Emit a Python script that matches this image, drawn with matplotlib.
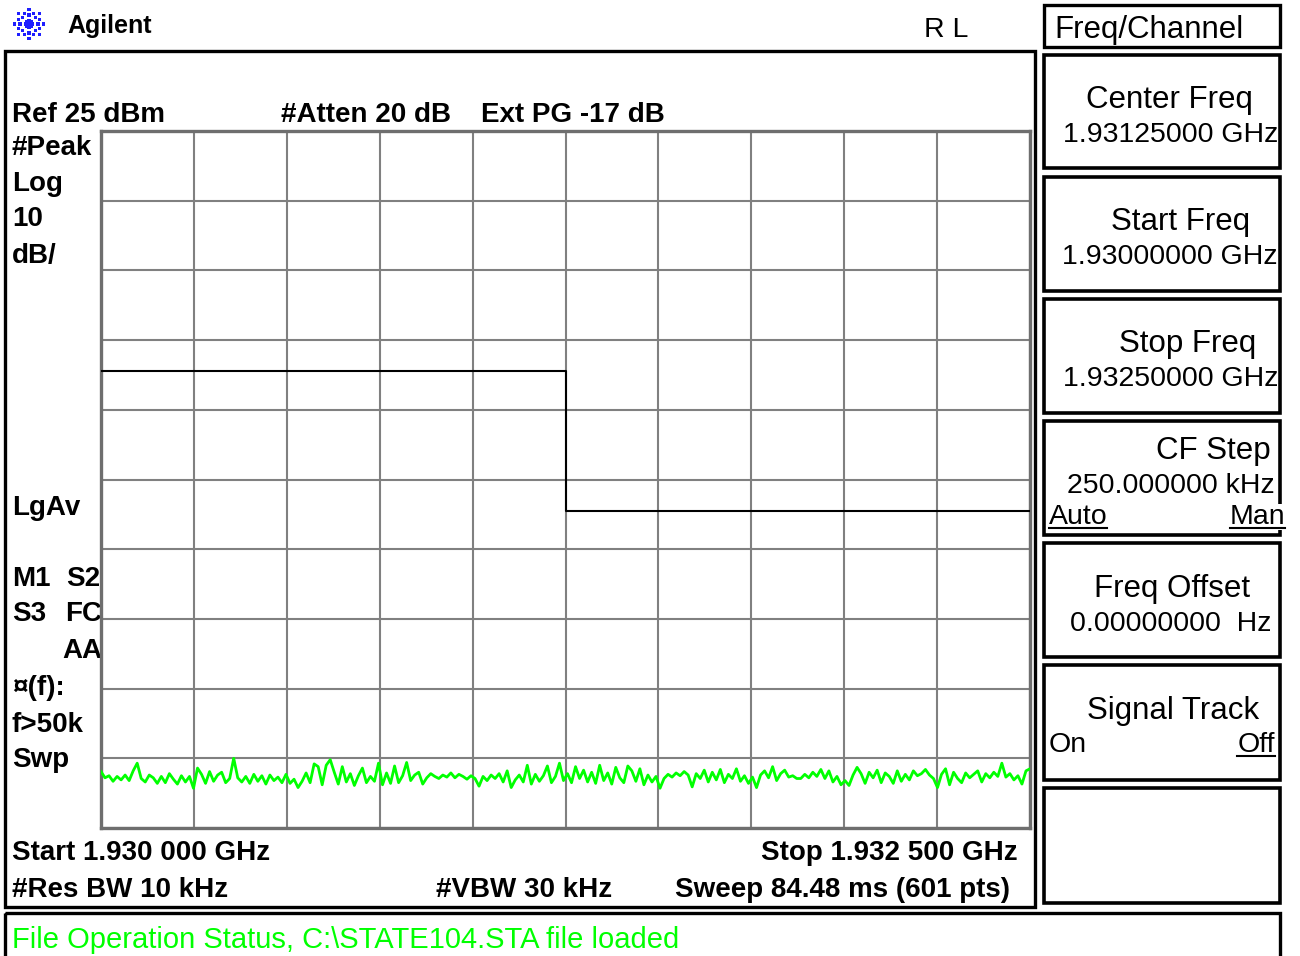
import numpy as np
import matplotlib
matplotlib.use("Agg")
import matplotlib.pyplot as plt
from matplotlib.patches import Rectangle

plt.rcParams['font.family'] = ['Liberation Sans', 'DejaVu Sans']

# ---------------- data ----------------
start_ghz = 1.930
stop_ghz = 1.9325
ref_dbm = 25
db_per_div = 10
n_div = 10

limit_freq = [1.930, 1.93125, 1.93125, 1.9325]
limit_db = [-9.5, -9.5, -29.5, -29.5]

trace_db = [
    -66.9, -67.8, -67.5, -68.3, -67.6, -68.1, -67.4, -68.2, -66.8, -65.7,
    -67.9, -68.4, -67.4, -67.8, -68.6, -67.6, -68.5, -67.2, -68.0, -68.7,
    -67.5, -68.4, -67.6, -69.3, -66.4, -67.3, -68.6, -66.9, -68.3, -67.4,
    -67.0, -68.5, -67.9, -65.0, -67.8, -68.4, -67.6, -68.6, -67.3, -68.3,
    -67.5, -68.7, -67.4, -68.2, -67.7, -68.5, -67.3, -68.6, -68.0, -69.2,
    -68.3, -67.1, -68.5, -65.8, -66.2, -68.8, -66.0, -65.2,
    -67.0, -68.7, -66.2, -68.4, -67.2, -68.9, -67.5, -66.4, -68.5, -67.6,
    -68.3, -65.7, -68.8, -67.1, -68.6, -66.1, -68.5, -67.5, -65.6, -68.2,
    -67.4, -67.0, -68.7, -67.8, -67.2, -67.6, -67.9, -67.4, -67.7, -67.1,
    -67.8, -67.3, -67.6, -68.0, -67.5, -67.9, -69.0, -67.6, -68.2, -67.4,
    -67.9, -67.2, -68.4, -66.8, -69.2, -68.1, -67.4, -68.4, -66.0, -68.7,
    -67.3, -68.3, -67.5, -66.1, -68.5, -67.6, -65.7, -68.2,
    -67.2, -68.5, -66.2, -67.9, -66.7, -68.4, -67.0, -68.6, -66.0, -68.2,
    -67.1, -68.7, -66.3, -67.8, -68.5, -66.1, -66.8, -68.3, -66.5, -68.8,
    -67.4, -68.4, -67.6, -69.3, -67.9, -67.3, -67.7, -67.1, -67.5, -66.9,
    -67.4, -69.1, -67.2, -67.9, -66.7, -68.4, -67.0, -68.1, -66.6, -68.5,
    -67.3, -67.9, -66.5, -68.3, -67.5, -68.6, -67.7, -69.2, -67.4, -66.8,
    -67.8, -66.2, -68.2, -67.2, -66.7, -67.7, -67.5, -67.9,
    -67.9, -67.3, -67.8, -67.0, -67.6, -66.6, -67.9, -66.8, -68.4, -67.6,
    -68.8, -68.2, -68.9, -67.4, -66.3, -67.2, -68.6, -67.0, -67.8, -66.7,
    -68.5, -67.1, -67.6, -68.6, -66.8, -68.3, -67.3, -68.1, -66.8, -67.5,
    -67.2, -66.6, -67.4, -67.9, -69.2, -67.3, -66.5, -68.8, -67.0, -67.9,
    -68.5, -67.1, -67.8, -67.3, -66.8, -68.4, -67.2, -67.8, -67.0, -67.6,
    -65.7, -67.7, -67.2, -68.1, -67.5, -68.7, -66.8, -66.5,
]
trace_freq = np.linspace(start_ghz, stop_ghz, len(trace_db))

left_labels = ["#Peak", "Log", "10", "dB/", "LgAv", "M1", "S3", "\u00a4(f):", "f>50k", "Swp"]
softkeys = [
    ("Center Freq", "1.93125000 GHz"),
    ("Start Freq", "1.93000000 GHz"),
    ("Stop Freq", "1.93250000 GHz"),
    ("CF Step", "250.000000 kHz"),
    ("Freq Offset", "0.00000000  Hz"),
    ("Signal Track", ""),
]

# ---------------- figure ----------------
W, H = 1300, 956
fig = plt.figure(figsize=(W / 100, H / 100), dpi=100, facecolor='white')

ov = fig.add_axes([0, 0, 1, 1])
ov.set_xlim(0, W)
ov.set_ylim(H, 0)
ov.axis('off')
ov.set_zorder(0)

# plot area
gx0, gx1, gy0, gy1 = 101, 1030, 131, 828
ax = fig.add_axes([gx0 / W, (H - gy1) / H, (gx1 - gx0) / W, (gy1 - gy0) / H])
ax.set_zorder(2)
ax.set_facecolor('white')
ax.set_xlim(start_ghz, stop_ghz)
ax.set_ylim(ref_dbm - n_div * db_per_div, ref_dbm)
ax.set_xticks(np.linspace(start_ghz, stop_ghz, n_div + 1))
ax.set_yticks(np.arange(ref_dbm - n_div * db_per_div, ref_dbm + 1, db_per_div))
ax.tick_params(left=False, bottom=False, labelleft=False, labelbottom=False)
ax.grid(True, color='#808080', linewidth=1.5)
for s in ax.spines.values():
    s.set_color('#6e6e6e')
    s.set_linewidth(2.4)

ax.plot(limit_freq, limit_db, color='black', linewidth=1.5, zorder=3)
ax.plot(trace_freq, trace_db, color='#00ff00', linewidth=2.0, zorder=4)

# ---------------- frames ----------------
def box(x0, y0, x1, y1, lw=2.4, color='black'):
    ov.add_patch(Rectangle((x0, y0), x1 - x0, y1 - y0, fill=False,
                           edgecolor=color, linewidth=lw, zorder=1))

box(5, 51, 1035, 907)
box(1044, 5, 1280, 47)
key_y = [(55, 168), (177, 291), (299, 413), (421, 535), (543, 657), (665, 780), (788, 903)]
for (a, b) in key_y:
    box(1044, a, 1280, b, lw=2.6)
box(5, 913, 1280, 962)

# ---------------- logo (decorative starburst) ----------------
cx, cy = 29, 24
pts_x, pts_y, sizes = [], [], []
for ang in np.arange(0, 360, 45):
    for r, sz in ((3, 7), (9, 5), (14.5, 5)):
        pts_x.append(cx + r * np.cos(np.radians(ang)))
        pts_y.append(cy + r * np.sin(np.radians(ang)))
        sizes.append(sz)
for ang in np.arange(22.5, 360, 45):
    pts_x.append(cx + 11.5 * np.cos(np.radians(ang)))
    pts_y.append(cy + 11.5 * np.sin(np.radians(ang)))
    sizes.append(4)
ov.scatter(pts_x, pts_y, s=sizes, marker='s', color='#1f1fff', linewidths=0, zorder=3)
ov.text(67, 33, "Agilent", fontsize=18, fontweight='bold', ha='left', va='baseline')
ov.text(924, 37, "R L", fontsize=20.5, ha='left', va='baseline')

# ---------------- left / header text ----------------
BF = 20
ov.text(12, 122, "Ref 25 dBm", fontsize=BF, fontweight='bold', va='baseline')
ov.text(281, 122, "#Atten 20 dB", fontsize=BF, fontweight='bold', va='baseline')
ov.text(481, 122, "Ext PG -17 dB", fontsize=BF, fontweight='bold', va='baseline')

left_base = [155, 191, 226, 263, 515, 586, 621, 695, 732, 767]
for lab, yb in zip(left_labels, left_base):
    ov.text(12, yb, lab, fontsize=BF, fontweight='bold', va='baseline')
ov.text(66, 586, "S2", fontsize=BF, fontweight='bold', va='baseline')
ov.text(65, 621, "FC", fontsize=BF, fontweight='bold', va='baseline')
ov.text(62, 658, "AA", fontsize=BF, fontweight='bold', va='baseline')

ov.text(12, 860, "Start 1.930 000 GHz", fontsize=BF, fontweight='bold', va='baseline')
ov.text(1018, 860, "Stop 1.932 500 GHz", fontsize=BF, fontweight='bold', va='baseline', ha='right')
ov.text(12, 897, "#Res BW 10 kHz", fontsize=BF, fontweight='bold', va='baseline')
ov.text(436, 897, "#VBW 30 kHz", fontsize=BF, fontweight='bold', va='baseline')
ov.text(1010, 897, "Sweep 84.48 ms (601 pts)", fontsize=BF, fontweight='bold', va='baseline', ha='right')

ov.text(12, 948, "File Operation Status, C:\\STATE104.STA file loaded",
        fontsize=21, color='#00ff00', va='baseline')

# ---------------- softkeys ----------------
LF, VF = 22.5, 20.5
ov.text(1054, 38, "Freq/Channel", fontsize=LF, va='baseline')
label_x = [1169, 1181, 1188, None, 1172, 1173]
label_base = [108, 230, 352, 459, 597, 719]
value_base = [142, 264, 386, 493, 631, 753]
value_right = [1278, 1278, 1278, 1275, 1271, 1278]
for i, (lab, val) in enumerate(softkeys):
    if label_x[i] is None:
        ov.text(1271, label_base[i], lab, fontsize=LF, va='baseline', ha='right')
    else:
        ov.text(label_x[i], label_base[i], lab, fontsize=LF, va='baseline', ha='center')
    if val:
        ov.text(value_right[i], value_base[i], val, fontsize=VF, va='baseline', ha='right',
                zorder=4, bbox=dict(facecolor='white', edgecolor='none', pad=0))

ov.text(1049, 524, "Auto", fontsize=VF, va='baseline', ha='left')
ov.text(1285, 524, "Man", fontsize=VF, va='baseline', ha='right',
        bbox=dict(facecolor='white', edgecolor='none', pad=0), zorder=4)
ov.plot([1049, 1107], [528, 528], color='black', lw=1.5, zorder=4)
ov.plot([1230, 1285], [528, 528], color='black', lw=1.5, zorder=4)
ov.text(1049, 752, "On", fontsize=VF, va='baseline', ha='left')
ov.text(1275, 752, "Off", fontsize=VF, va='baseline', ha='right')
ov.plot([1237, 1275], [756, 756], color='black', lw=1.5, zorder=4)

fig.savefig("out.png", dpi=100, facecolor='white')
